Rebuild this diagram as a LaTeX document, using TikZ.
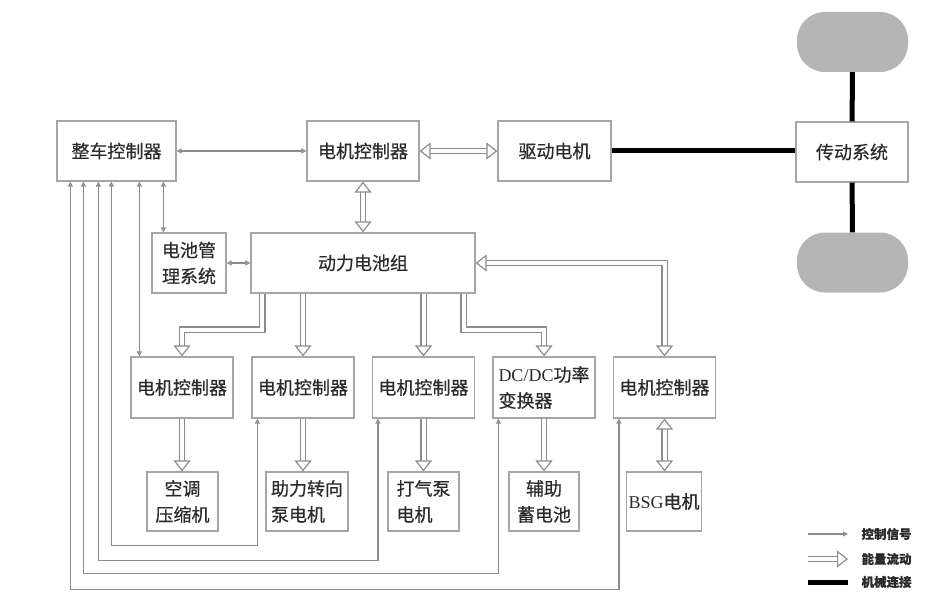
\documentclass[tikz,border=0pt]{standalone}
\usepackage{fontspec}
\setmainfont{Liberation Serif}
\newfontfamily\cjk[FakeBold=0.5]{Noto Sans CJK SC}
\usepackage{tikz}
\usetikzlibrary{arrows.meta}

\definecolor{boxgray}{HTML}{A6A6A6}
\definecolor{siggray}{HTML}{8C8C8C}
\definecolor{wheelgray}{HTML}{B5B5B5}
\definecolor{txtgray}{HTML}{2B2B2B}
\newcommand{\en}[1]{{\rmfamily #1}}

\tikzset{
    box/.style={draw=boxgray, line width=1.2pt, fill=white, inner sep=2pt,
        text=txtgray, font=\cjk\fontsize{18}{26}\selectfont},
    sig/.style={draw=siggray, line width=1.4pt,
        {Triangle[open,length=5pt,width=5pt]}-{Triangle[open,length=5pt,width=5pt]}},
    energy/.style={draw=siggray, line width=1.2pt, double=white, double distance=4pt,
        -{Triangle[open,length=11pt,width=17pt]}},
    energy2/.style={energy,
        {Triangle[open,length=11pt,width=17pt]}-{Triangle[open,length=11pt,width=17pt]}},
    mech/.style={line width=5pt, black},
    wheel/.style={fill=wheelgray, rounded corners=28pt, minimum width=111pt, minimum height=60pt},
    legend/.style={text=txtgray, font=\cjk\fontsize{12.5}{14}\selectfont\bfseries, anchor=west}
}

\begin{document}
\begin{tikzpicture}[x=1pt, y=-1pt]
    \useasboundingbox (0,0) rectangle (941,604);

    % TOP ROW
    \node[box, minimum width=119pt, minimum height=60pt] (vcu) at (116.5,151) {整车控制器};
    \node[box, minimum width=112pt, minimum height=60pt] (mc0) at (363,151) {电机控制器};
    \node[box, minimum width=113pt, minimum height=60pt] (drive) at (554.5,151) {驱动电机};
    \node[box, minimum width=112pt, minimum height=60pt] (trans) at (852,152) {传动系统};

    % WHEELS
    \node[wheel] (wup) at (852.5,42) {};
    \node[wheel] (wdown) at (852.5,262.5) {};

    % BATTERY ROW
    \node[box, minimum width=74pt, minimum height=60pt, align=center] (bms) at (189,263) {电池管\\理系统};
    \node[box, minimum width=224pt, minimum height=60pt] (pack) at (363,263) {动力电池组};

    % MOTOR CONTROLLERS
    \foreach \n/\x in {mc1/182, mc2/303, mc3/423.5, mc5/664.5}{
        \node[box, minimum width=102pt, minimum height=61pt] (\n) at (\x,387.5) {电机控制器};
    }
    \node[box, minimum width=102pt, minimum height=61pt, align=left] (dcdc) at (544,387.5) {\en{DC/DC}功率\\变换器};

    % LOADS
    \node[box, minimum width=71pt, minimum height=59pt, align=center] (ac) at (182.5,501.5) {空调\\压缩机};
    \node[box, minimum width=82pt, minimum height=59pt, align=left] (eps) at (307,501.5) {助力转向\\泵电机};
    \node[box, minimum width=71pt, minimum height=59pt, align=left] (pump) at (423.5,501.5) {打气泵\\电机};
    \node[box, minimum width=70pt, minimum height=59pt, align=center] (aux) at (544,501.5) {辅助\\蓄电池};
    \node[box, minimum width=72pt, minimum height=59pt] (bsg) at (664,501.5) {\en{BSG}电机};

    % MECHANICAL LINKS
    \draw[mech] (drive.east) -- (drive.east -| trans.west);
    \draw[mech] (wup) -- (trans);
    \draw[mech] (trans) -- (wdown);

    % ENERGY FLOW
    \draw[energy2] (mc0) -- (drive);
    \draw[energy2] (mc0) -- (pack);
    \draw[energy] ([xshift=12pt]pack.south west) -- ++(0,36) -| (mc1.north);
    \draw[energy] (mc2.north |- pack.south) -- (mc2.north);
    \draw[energy] (mc3.north |- pack.south) -- (mc3.north);
    \draw[energy] ([xshift=-12pt]pack.south east) -- ++(0,36) -| (dcdc.north);
    \draw[energy2] (mc5.north) |- (pack.east);
    \draw[energy] (mc1) -- (mc1.south |- ac.north);
    \draw[energy] (mc2) -- (mc2.south |- eps.north);
    \draw[energy] (mc3) -- (pump);
    \draw[energy] (dcdc) -- (aux);
    \draw[energy2] (mc5) -- (mc5.south |- bsg.north);

    % CONTROL SIGNALS
    \draw[sig] (vcu) -- (mc0);
    \draw[sig] ([xshift=107pt]vcu.south west) -- ([xshift=107pt]vcu.south west |- bms.north);
    \draw[sig] (bms) -- (pack);
    \draw[sig] ([xshift=83pt]vcu.south west) -- ([xshift=83pt]vcu.south west |- mc1.north);
    \foreach \dx/\dy/\n in {55/364/mc2, 42/379/mc3, 27/392/dcdc, 14/408/mc5}{
        \draw[sig] ([xshift=\dx pt]vcu.south west) -- ++(0,\dy) -| ([xshift=6pt]\n.south west);
    }

    % LEGEND
    \node[legend] (lsig) at (858,534) {控制信号};
    \node[legend] (lenergy) at (858,559) {能量流动};
    \node[legend] (lmech) at (858,582) {机械连接};
    \draw[sig, -{Triangle[open,length=5pt,width=5pt]}] ([xshift=-50pt]lsig.west) -- ([xshift=-10pt]lsig.west);
    \draw[energy] ([xshift=-50pt]lenergy.west) -- ([xshift=-10pt]lenergy.west);
    \draw[mech] ([xshift=-50pt]lmech.west) -- ([xshift=-10pt]lmech.west);

\end{tikzpicture}
\end{document}
